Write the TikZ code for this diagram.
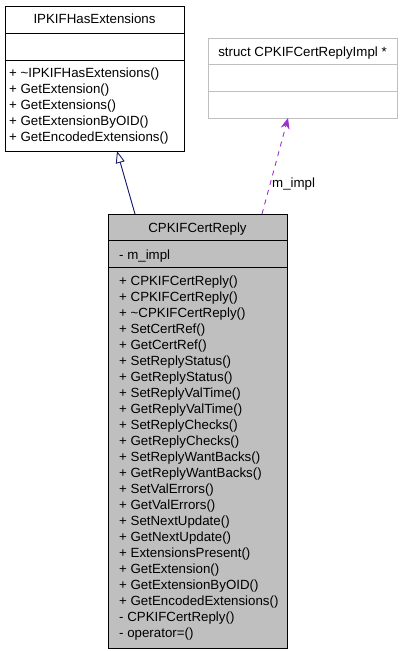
\documentclass[tikz,border=0pt]{standalone}
\usepackage{fontspec}
\setmainfont{Liberation Sans}
\usetikzlibrary{arrows.meta,calc}
\definecolor{navyedge}{HTML}{191970}
\definecolor{purpleedge}{HTML}{9A32CD}
\definecolor{boxgray}{HTML}{BFBFBF}
\begin{document}
\begin{tikzpicture}[x=1pt,y=1pt,
  box/.style={draw=black, line width=1pt, anchor=north west, inner sep=0pt, outer sep=0pt},
  txt/.style={anchor=base west, inner sep=0pt, font=\fontsize{13.3}{16}\selectfont},
  ttl/.style={anchor=base, inner sep=0pt, font=\fontsize{13.3}{16}\selectfont},
  inh/.style={draw=navyedge, line width=0.9pt, -{Triangle[open, length=12pt, width=9pt]}},
  use/.style={draw=purpleedge, line width=0.9pt, dash pattern=on 5pt off 5pt, -{Stealth[length=11pt, width=9pt]}}]
\useasboundingbox (0,0) rectangle (400,-651);

% Base class
\node[box, minimum width=179pt, minimum height=145pt] (base) at (5,-6) {};
\draw[line width=1pt] (5,-33) -- (184,-33);
\draw[line width=1pt] (5,-60) -- (184,-60);
\node[ttl] (basettl) at (94.5,-23) {IPKIFHasExtensions};
\foreach \t [count=\i from 0] in {+ \textasciitilde IPKIFHasExtensions(), + GetExtension(), + GetExtensions(), + GetExtensionByOID(), + GetEncodedExtensions()}
  \node[txt] (basem\i) at (9,-77-16*\i) {\t};

% Struct
\node[box, draw=boxgray, minimum width=189pt, minimum height=80pt] (impl) at (208,-38) {};
\draw[boxgray, line width=1pt] (208,-64) -- (397,-64);
\draw[boxgray, line width=1pt] (208,-91) -- (397,-91);
\node[ttl] (implttl) at (302.5,-56) {struct CPKIFCertReplyImpl *};

% Derived class
\node[box, fill=boxgray, minimum width=179pt, minimum height=434pt] (derived) at (108,-214) {};
\draw[line width=1pt] (108,-240) -- (287,-240);
\draw[line width=1pt] (108,-267) -- (287,-267);
\node[ttl] (derttl) at (197.5,-232) {CPKIFCertReply};
\node[txt] (dera) at (119,-259) {- m\_impl};
\foreach \t [count=\i from 0] in {+ CPKIFCertReply(), + CPKIFCertReply(), + \textasciitilde CPKIFCertReply(), + SetCertRef(), + GetCertRef(), + SetReplyStatus(), + GetReplyStatus(), + SetReplyValTime(), + GetReplyValTime(), + SetReplyChecks(), + GetReplyChecks(), + SetReplyWantBacks(), + GetReplyWantBacks(), + SetValErrors(), + GetValErrors(), + SetNextUpdate(), + GetNextUpdate(), + ExtensionsPresent(), + GetExtension(), + GetExtensionByOID(), + GetEncodedExtensions(), - CPKIFCertReply(), - operator=()}
  \node[txt] (derm\i) at (119,-285-16*\i) {\t};

% Connectors
\draw[inh] ($(derived.north west)+(27,0)$) -- ($(base.south west)+(112,0)$);
\draw[use] ($(derived.north west)+(154,0)$) -- ($(impl.south west)+(80,0)$);
\node[txt] (lbl) at (272,-187) {m\_impl};
\end{tikzpicture}
\end{document}
